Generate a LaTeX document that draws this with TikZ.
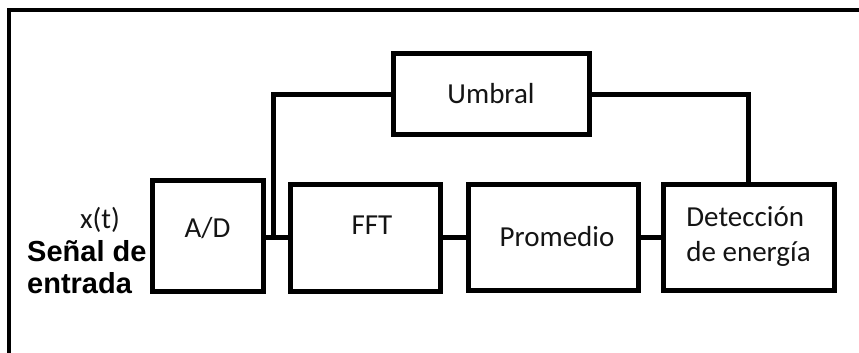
\documentclass[tikz,border=0pt]{standalone}
\usepackage{fontspec}
\setmainfont{Carlito}
\newfontfamily\arialfont{Liberation Sans}
\usetikzlibrary{positioning,calc}

\begin{document}
\begin{tikzpicture}[
  x=1pt, y=-1pt,
  blk/.style={draw=black, line width=5pt, inner sep=0pt, outer sep=0pt,
              font=\fontsize{29}{35}\selectfont, text=black!92, align=left},
  wire/.style={draw=black, line width=5pt},
  frame/.style={draw=black, line width=4pt},
  lbl/.style={inner sep=0pt, font=\fontsize{29}{35}\selectfont, text=black!92},
]
\useasboundingbox (0,0) rectangle (859,353);

% ============================== blocks ==============================
\node[blk, minimum width=111pt, minimum height=111pt] (ad)     at (207.5,235.5) {\raisebox{7pt}[\height][\depth]{A/D}};
\node[blk, minimum width=150pt, minimum height=107pt] (fft)    at (365,237.5)   {\hspace*{14pt}\raisebox{12pt}[\height][\depth]{FFT}};
\node[blk, minimum width=170pt, minimum height=106pt] (prom)   at (553,237)     {\hspace*{8pt}Promedio};
\node[blk, minimum width=171pt, minimum height=106pt] (det)    at (748.5,237)   {Detección\\de energía};
\node[blk, minimum width=196pt, minimum height=80pt]  (umbral) at (491,94)      {Umbral};

% ============================== input labels ==============================
\node[lbl] (xt) at (100,220) {x(t)};
\node[lbl, anchor=west, align=left, text=black,
      font=\arialfont\bfseries\fontsize{29}{32}\selectfont] (senal) at (27,267)
  {Señal de\\entrada};

% ============================== connections ==============================
\coordinate (tap) at ($(fft.west -| ad.east)!0.4!(fft.west)$);
\draw[wire] (ad.east |- fft.west) -- (fft.west);
\draw[wire] (fft.east |- prom.west) -- (prom.west);
\draw[wire] (prom.east) -- (det.west);
\draw[wire] (tap) |- (umbral.west);
\draw[wire] (umbral.east) -| (det.north);

% ============================== frame ==============================
\draw[frame] (9,353) -- (9,10) -- (859,10);
\end{tikzpicture}
\end{document}
